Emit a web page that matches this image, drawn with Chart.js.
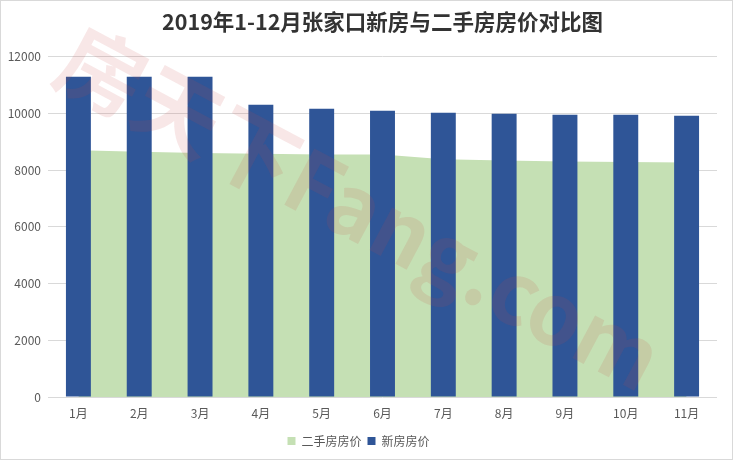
<!DOCTYPE html>
<html>
<head>
<meta charset="utf-8">
<script src="https://cdn.jsdelivr.net/npm/chart.js@4.4.1/dist/chart.umd.min.js"></script>
<style>
    html, body { margin: 0; padding: 0; background: #fff; }
    #wrap { width: 733px; height: 460px; }
</style>
</head>
<body>
<div id="wrap"><canvas id="priceChart" width="733" height="460"></canvas></div>
<script>
// 月份
const months = ['1月', '2月', '3月', '4月', '5月', '6月', '7月', '8月', '9月', '10月', '11月'];
// 新房房价 (元/㎡)
const xinfangPrice = [11300, 11300, 11300, 10310, 10170, 10100, 10030, 9990, 9960, 9960, 9920];
// 二手房房价 (元/㎡)
const ershouPrice = [8700, 8650, 8610, 8580, 8550, 8550, 8390, 8340, 8310, 8290, 8270];
const yMax = 12000;
const yStep = 2000;

const fontFamily = '"Noto Sans CJK SC", "Noto Sans", sans-serif';

const watermark = {
    id: 'watermark',
    afterDatasetsDraw: (chart) => {
        const ctx = chart.ctx;
        ctx.save();
        ctx.translate(360, 208);
        ctx.rotate(28 * Math.PI / 180);
        ctx.font = 'bold 86px ' + fontFamily;
        ctx.fillStyle = 'rgba(200, 70, 70, 0.13)';
        ctx.textAlign = 'center';
        ctx.textBaseline = 'middle';
        ctx.fillText('房天下Fang.com', 0, 0);
        ctx.restore();
    }
};

const frame = {
    id: 'frame',
    afterDraw: (chart) => {
        const ctx = chart.ctx;
        ctx.save();
        ctx.strokeStyle = '#D9D9D9';
        ctx.lineWidth = 1;
        ctx.strokeRect(0.5, 0.5, chart.width - 1, chart.height - 1);
        ctx.restore();
    }
};

new Chart(document.getElementById('priceChart'), {
    data: {
        labels: months,
        datasets: [
            {
                type: 'line',
                label: '二手房房价',
                data: ershouPrice,
                backgroundColor: '#C5E0B4',
                borderColor: '#C5E0B4',
                borderWidth: 0,
                fill: 'origin',
                tension: 0,
                pointRadius: 0,
                order: 2
            },
            {
                type: 'bar',
                label: '新房房价',
                data: xinfangPrice,
                backgroundColor: '#2F5597',
                barPercentage: 0.41,
                categoryPercentage: 1,
                order: 1
            }
        ]
    },
    options: {
        responsive: false,
        animation: false,
        layout: { padding: { left: 0, right: 16, top: 0, bottom: 3 } },
        plugins: {
            title: {
                display: true,
                text: '2019年1-12月张家口新房与二手房房价对比图',
                fullSize: false,
                color: '#333333',
                font: { family: fontFamily, size: 21.5, weight: 'bold' },
                padding: { top: 9, bottom: 22 }
            },
            legend: {
                position: 'bottom',
                labels: {
                    color: '#595959',
                    font: { family: fontFamily, size: 12 },
                    boxWidth: 8,
                    boxHeight: 8,
                    padding: 6,
                    sort: (a, b) => a.datasetIndex - b.datasetIndex
                }
            },
            tooltip: { enabled: false }
        },
        scales: {
            x: {
                grid: { display: false, drawTicks: false },
                border: { display: false },
                ticks: { color: '#595959', font: { family: fontFamily, size: 12 }, padding: 9 },
                afterFit: (scale) => { scale.height = 32; }
            },
            y: {
                min: 0,
                max: yMax,
                ticks: {
                    stepSize: yStep,
                    color: '#595959',
                    font: { family: fontFamily, size: 12 },
                    padding: 7,
                    callback: (value) => String(value)
                },
                grid: { color: '#D9D9D9', drawTicks: false },
                border: { display: false },
                afterFit: (scale) => { scale.width = 48; }
            }
        }
    },
    plugins: [watermark, frame]
});
</script>
</body>
</html>
